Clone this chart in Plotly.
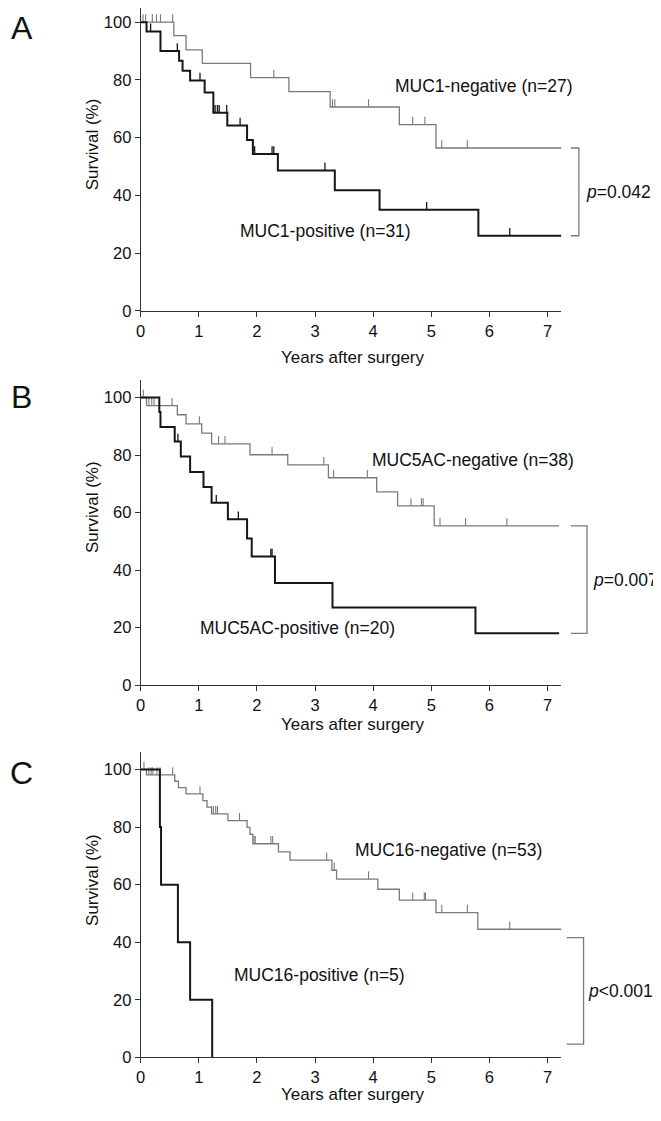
import plotly.graph_objects as go

# The page body has an 8 px default margin, so the figure is placed at (8, 8)
OFF = 8
W, H = 653, 1105
FONT = "Liberation Sans, Arial, Helvetica, sans-serif"

# ---------------- DATA ----------------
# Panel A: MUC1
a_neg_t = [0, 0.57, 0.78, 1.06, 1.89, 2.55, 3.26, 4.45, 5.08, 7.24]
a_neg_s = [100, 95.3, 90.4, 85.7, 80.8, 75.9, 70.6, 64.5, 56.4, 56.4]
a_neg_cens = [0.04, 0.085, 0.20, 0.27, 0.34, 0.55, 2.29, 3.30, 3.34, 3.92, 4.68, 4.89, 5.18, 5.62]
a_pos_t = [0, 0.10, 0.34, 0.66, 0.72, 0.85, 1.10, 1.25, 1.49, 1.83, 1.93, 2.36, 3.34, 4.11, 5.81, 7.24]
a_pos_s = [100, 96.8, 90.0, 86.6, 83.2, 79.8, 75.6, 68.6, 64.2, 59.2, 54.3, 48.6, 41.8, 35.0, 26.0, 26.0]
a_pos_cens = [0.17, 0.63, 1.02, 1.28, 1.32, 1.35, 1.48, 1.71, 1.96, 2.26, 2.29, 3.17, 4.92, 6.35]

# Panel B: MUC5AC
b_neg_t = [0, 0.10, 0.63, 0.78, 1.05, 1.22, 1.88, 2.53, 3.23, 4.06, 4.42, 5.05, 7.20]
b_neg_s = [100, 97.2, 94.0, 90.8, 87.6, 83.9, 80.1, 76.6, 72.1, 67.2, 62.3, 55.4, 55.4]
b_neg_cens = [0.045, 0.14, 0.19, 0.23, 0.54, 1.01, 1.34, 1.45, 2.26, 3.15, 3.32, 3.90,
              4.65, 4.83, 4.86, 5.15, 5.59, 6.30]
b_pos_t = [0, 0.32, 0.34, 0.585, 0.69, 0.85, 1.08, 1.22, 1.50, 1.83, 1.91, 2.31, 3.30, 5.76, 7.20]
b_pos_s = [100, 95.0, 89.7, 84.7, 79.5, 74.1, 68.9, 63.4, 57.7, 51.0, 44.7, 35.5, 27.0, 18.0, 18.0]
b_pos_cens = [0.64, 1.30, 1.68, 2.24, 2.26]

# Panel C: MUC16
c_neg_t = [0, 0.10, 0.585, 0.65, 0.78, 1.07, 1.14, 1.22, 1.50, 1.83, 1.88, 1.93, 2.37, 2.57,
           3.29, 3.37, 4.08, 4.45, 5.08, 5.80, 7.24]
c_neg_s = [100, 98.1, 95.9, 93.7, 91.5, 89.2, 86.9, 84.6, 82.2, 79.9, 77.5, 74.2, 71.4, 68.5,
           65.0, 61.9, 58.4, 54.6, 50.3, 44.5, 44.5]
c_neg_cens = [0.056, 0.14, 0.18, 0.21, 0.28, 0.33, 0.55, 1.02, 1.25, 1.29, 1.32, 1.70, 1.95, 1.97,
              2.24, 2.27, 3.20, 3.33, 3.92, 4.68, 4.88, 4.90, 5.18, 5.62, 6.35]
c_pos_t = [0, 0.33, 0.35, 0.64, 0.85, 1.23]
c_pos_s = [100, 80, 60, 40, 20, 0]
c_pos_cens = []

neg_labels = ["MUC1-negative (n=27)", "MUC5AC-negative (n=38)", "MUC16-negative (n=53)"]
pos_labels = ["MUC1-positive (n=31)", "MUC5AC-positive (n=20)", "MUC16-positive (n=5)"]
p_texts = ["<i>p</i>=0.042", "<i>p</i>=0.007", "<i>p</i>&lt;0.001"]
bracket_hi = [56.4, 55.4, 41.6]
bracket_lo = [26.0, 18.0, 4.6]
panel_letters = ["A", "B", "C"]
x_ticks = [0, 1, 2, 3, 4, 5, 6, 7]
y_ticks = [0, 20, 40, 60, 80, 100]

# ---------------- LAYOUT CONSTANTS (reference-window pixels) ----------------
X0_PX, X1_PX = 136.7, 560.7
X_MAX = 7.24
PX_PER_YEAR = (X1_PX - X0_PX) / X_MAX
Y_MAX = 106
panel_px = [(313.3, 4.8), (690.7, 383.3), (1066.0, 758.3)]   # (px of 0, px of 106)
neg_pos = [(5.91, 77.9), (5.71, 78.2), (5.29, 72.1)]
pos_pos = [(3.18, 27.8), (2.70, 19.8), (3.07, 28.5)]
bracket_x = [(7.40, 7.54), (7.40, 7.68), (7.33, 7.62)]
p_x = [7.62, 7.75, 7.66]
letter_px = [None, 400, 779]          # A is pinned to the top edge
ytitle_px = [145, 510.7, 886.7]
xtitle_px = [360, 730.7, 1103]

GRAY = "#7a7a7a"
BLACK = "#161616"
AXIS = "#333333"
TXT = "#111111"


def px_x(px):
    return (px - OFF) / W


def px_y(px):
    return 1 - (px - OFF) / H


EXT_MAX = (W + OFF - X0_PX) / PX_PER_YEAR


def level_at(t_arr, s_arr, t):
    lvl = s_arr[0]
    for ti, si in zip(t_arr, s_arr):
        if ti <= t:
            lvl = si
    return lvl


def censor_segments(t_arr, s_arr, cens, h=2.7):
    xs, ys = [], []
    for c in cens:
        lv = level_at(t_arr, s_arr, c)
        xs += [c, c, None]
        ys += [lv, lv + h, None]
    return xs, ys


panels = [
    (a_neg_t, a_neg_s, a_neg_cens, a_pos_t, a_pos_s, a_pos_cens),
    (b_neg_t, b_neg_s, b_neg_cens, b_pos_t, b_pos_s, b_pos_cens),
    (c_neg_t, c_neg_s, c_neg_cens, c_pos_t, c_pos_s, c_pos_cens),
]

fig = go.Figure()
annotations = []
layout_axes = {}

for i, (nt, ns, nc, pt, ps, pc) in enumerate(panels):
    k = i + 1
    xa = "x" if k == 1 else f"x{k}"
    ya = "y" if k == 1 else f"y{k}"
    xe = f"x{k + 3}"
    xkey = "xaxis" if k == 1 else f"xaxis{k}"
    ykey = "yaxis" if k == 1 else f"yaxis{k}"
    xekey = f"xaxis{k + 3}"
    bot, top = panel_px[i]
    px_per_pct = (bot - top) / Y_MAX
    top_c = max(top, OFF)
    y_top_val = (bot - top_c) / px_per_pct

    bx0, bx1 = bracket_x[i]
    fig.add_trace(go.Scatter(x=[bx0, bx1, bx1, bx0],
                             y=[bracket_hi[i], bracket_hi[i], bracket_lo[i], bracket_lo[i]],
                             xaxis=xe, yaxis=ya, mode="lines",
                             line=dict(color=GRAY, width=1.3), hoverinfo="skip"))
    fig.add_trace(go.Scatter(x=nt, y=ns, xaxis=xa, yaxis=ya, mode="lines",
                             line=dict(shape="hv", color=GRAY, width=1.3), hoverinfo="skip"))
    cx, cy = censor_segments(nt, ns, nc)
    fig.add_trace(go.Scatter(x=cx, y=cy, xaxis=xa, yaxis=ya, mode="lines",
                             line=dict(color=GRAY, width=1.1), hoverinfo="skip"))
    fig.add_trace(go.Scatter(x=pt, y=ps, xaxis=xa, yaxis=ya, mode="lines",
                             line=dict(shape="hv", color=BLACK, width=2.0), hoverinfo="skip"))
    if pc:
        cx, cy = censor_segments(pt, ps, pc)
        fig.add_trace(go.Scatter(x=cx, y=cy, xaxis=xa, yaxis=ya, mode="lines",
                                 line=dict(color=BLACK, width=1.3), hoverinfo="skip"))

    layout_axes[xkey] = dict(domain=[px_x(X0_PX), px_x(X1_PX)], range=[0, X_MAX], anchor=ya,
                             showline=True, linecolor=AXIS, linewidth=1.2, showgrid=False, zeroline=False,
                             ticks="outside", ticklen=5, tickwidth=1.2, tickcolor=AXIS,
                             tickvals=x_ticks, tickfont=dict(family=FONT, size=16.5, color=TXT),
                             fixedrange=True)
    layout_axes[ykey] = dict(domain=[px_y(bot), px_y(top_c)], range=[0, y_top_val], anchor=xa,
                             showline=True, linecolor=AXIS, linewidth=1.2, showgrid=False, zeroline=False,
                             ticks="outside", ticklen=5, tickwidth=1.2, tickcolor=AXIS,
                             tickvals=y_ticks, tickfont=dict(family=FONT, size=16.5, color=TXT),
                             fixedrange=True)
    layout_axes[xekey] = dict(domain=[px_x(X0_PX), 1.0], range=[0, EXT_MAX], anchor=ya,
                              visible=False, showgrid=False, zeroline=False, fixedrange=True)

    annotations.append(dict(x=neg_pos[i][0], y=neg_pos[i][1], xref=xa, yref=ya, text=neg_labels[i],
                            xanchor="center", yanchor="middle", showarrow=False,
                            font=dict(family=FONT, size=17.5, color=TXT)))
    annotations.append(dict(x=pos_pos[i][0], y=pos_pos[i][1], xref=xa, yref=ya, text=pos_labels[i],
                            xanchor="center", yanchor="middle", showarrow=False,
                            font=dict(family=FONT, size=17.5, color=TXT)))
    annotations.append(dict(x=p_x[i], y=(bracket_hi[i] + bracket_lo[i]) / 2, xref=xe, yref=ya,
                            text=p_texts[i], xanchor="left", yanchor="middle", showarrow=False,
                            font=dict(family=FONT, size=17.5, color=TXT)))
    if letter_px[i] is None:
        annotations.append(dict(x=px_x(17), y=1.0, xref="paper", yref="paper",
                                text=panel_letters[i], xanchor="center", yanchor="top",
                                showarrow=False, font=dict(family=FONT, size=32, color=TXT)))
    else:
        annotations.append(dict(x=px_x(17), y=px_y(letter_px[i]), xref="paper", yref="paper",
                                text=panel_letters[i], xanchor="center", yanchor="middle",
                                showarrow=False, font=dict(family=FONT, size=32, color=TXT)))
    annotations.append(dict(x=px_x(88), y=px_y(ytitle_px[i]), xref="paper", yref="paper",
                            text="Survival (%)", textangle=-90, xanchor="center", yanchor="middle",
                            showarrow=False, font=dict(family=FONT, size=17, color=TXT)))
    annotations.append(dict(x=px_x(350), y=px_y(xtitle_px[i]), xref="paper", yref="paper",
                            text="Years after surgery", xanchor="center", yanchor="middle",
                            showarrow=False, font=dict(family=FONT, size=17, color=TXT)))

fig.update_layout(width=W, height=H, margin=dict(l=0, r=0, t=0, b=0),
                  plot_bgcolor="rgba(0,0,0,0)", paper_bgcolor="white", showlegend=False,
                  annotations=annotations, **layout_axes)

fig.write_html("out.html")
